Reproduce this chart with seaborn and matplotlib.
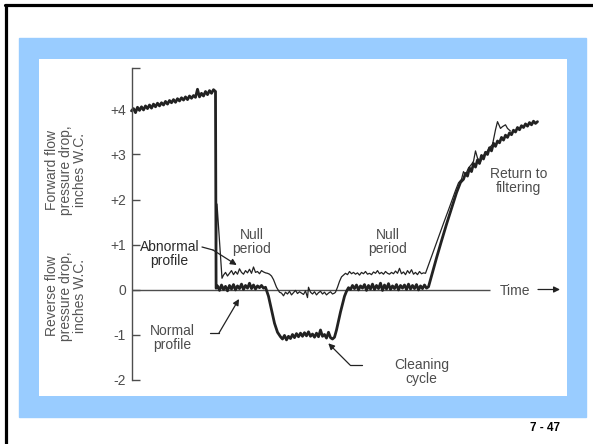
import matplotlib
matplotlib.use("Agg")
import matplotlib.pyplot as plt
from matplotlib.patches import Rectangle
from matplotlib.lines import Line2D
import pandas as pd
import seaborn as sns

# time axis in arbitrary units, pressure drop in inches W.C.
normal_t = [0, 2, 4, 6, 8, 10, 12, 14, 16, 18, 20, 22, 24, 26, 28, 30, 32, 34, 36, 38, 40,
            42, 44, 46, 48, 50, 52, 54, 56, 58, 60, 62, 64, 66, 68, 70, 72, 74, 76, 78, 80, 82, 84,
            84.6, 86, 88, 90, 92, 94, 96, 98, 100, 102, 104, 106, 108, 110, 112, 114, 116, 118,
            120, 122, 124, 126, 128, 130, 132, 134,
            137, 140, 143, 146, 149,
            151, 153, 155, 157, 159, 161, 163, 165, 167, 169, 171, 173, 175, 177, 179, 181, 183,
            185, 187, 189, 191, 193, 195, 197, 199, 201, 203,
            205, 207, 209, 211, 213, 215, 217,
            219, 221, 223, 225, 227, 229, 231, 233, 235, 237, 239, 241, 243, 245, 247, 249, 251,
            253, 255, 257, 259, 261, 263, 265, 267, 269, 271, 273, 275, 277, 279, 281, 283, 285,
            287, 289, 291, 293, 295, 297,
            300, 305, 310, 315, 320, 325, 329,
            332, 334, 336, 338, 340, 342, 344, 346, 348, 350, 352, 354, 356, 358, 360, 362, 364,
            366, 368, 370, 372, 374, 376, 378, 380, 382, 384, 386, 388, 390, 392, 394, 396, 398,
            400, 402, 404, 406]
normal_v = [3.97, 4.02, 3.93, 4.05, 3.98, 4.06, 3.99, 4.08, 4.02, 4.10, 4.03, 4.12, 4.06, 4.14,
            4.08, 4.15, 4.10, 4.18, 4.12, 4.20, 4.15, 4.22, 4.16, 4.24, 4.19, 4.26, 4.21, 4.28,
            4.22, 4.30, 4.25, 4.31, 4.27, 4.45, 4.28, 4.36, 4.30, 4.40, 4.33, 4.42, 4.36, 4.44, 4.40,
            0.03, 0.08, -0.02, 0.10, 0.00, 0.07, -0.03, 0.09, 0.01, 0.11, -0.01, 0.08, 0.02, 0.12,
            0.00, 0.09, 0.03, 0.14, 0.02, 0.10, 0.01, 0.08, 0.04, 0.09, 0.03, 0.05,
            -0.15, -0.45, -0.75, -0.95, -1.05,
            -1.10, -1.02, -1.12, -1.04, -1.09, -1.00, -1.07, -0.98, -1.05, -0.97, -1.04, -0.96,
            -1.03, -0.94, -1.04, -0.99, -1.06, -0.97, -1.05, -0.90, -1.04, -1.00, -1.08, -0.95,
            -1.07, -1.10, -1.06,
            -0.90, -0.70, -0.50, -0.32, -0.15, -0.04, 0.04,
            0.00, 0.09, 0.02, 0.10, -0.01, 0.08, 0.03, 0.11, -0.02, 0.09, 0.01, 0.12, 0.00, 0.09,
            0.02, 0.14, -0.02, 0.10, 0.01, 0.13, 0.00, 0.08, 0.02, 0.11, -0.01, 0.09, 0.03, 0.10,
            0.00, 0.12, 0.01, 0.09, 0.02, 0.11, -0.01, 0.08, 0.02, 0.10, 0.03, 0.06,
            0.30, 0.70, 1.08, 1.45, 1.80, 2.15, 2.38,
            2.45, 2.58, 2.52, 2.70, 2.62, 2.80, 2.72, 2.88, 2.80, 2.98, 2.90, 3.05, 3.00, 3.15,
            3.08, 3.25, 3.18, 3.30, 3.26, 3.38, 3.32, 3.43, 3.38, 3.48, 3.44, 3.54, 3.50, 3.60,
            3.55, 3.64, 3.60, 3.68, 3.63, 3.71, 3.66, 3.74, 3.69, 3.73]

abnormal_t = [84, 84.4, 85.5, 90.5,
              92, 94, 96, 98, 100, 102, 104, 106, 108, 110, 112, 114, 116, 118, 120, 122, 124,
              126, 128, 130, 132, 134, 136, 138, 140,
              142, 145, 148, 150,
              152, 154, 156, 158, 160, 162, 164, 166, 168, 170, 172, 174, 176, 177, 179, 181,
              183, 185, 187, 189, 191, 193, 195, 197, 199, 201, 203, 204,
              206, 208, 210, 212,
              214, 216, 218, 220, 222, 224, 226, 228, 230, 232, 234, 236, 238, 240, 242, 244,
              246, 248, 250, 252, 254, 256, 258, 260, 262, 264, 266, 268, 270, 272, 274, 276,
              278, 280, 282, 284, 286, 288, 290, 292, 294,
              300, 306, 312, 318, 324, 327,
              330, 332, 334, 337, 340, 342, 344, 346, 349, 352, 355, 358, 361, 364, 366, 369,
              371, 374, 376, 379]
abnormal_v = [4.40, 0.02, 1.90, 0.25,
              0.32, 0.38, 0.30, 0.36, 0.42, 0.33, 0.40, 0.34, 0.46, 0.38, 0.34, 0.42, 0.37, 0.45,
              0.36, 0.50, 0.38, 0.40, 0.35, 0.42, 0.39, 0.37, 0.36, 0.34, 0.30,
              0.22, 0.05, -0.06, -0.08,
              -0.14, -0.06, -0.10, -0.04, -0.12, -0.07, -0.02, -0.09, -0.05, -0.08, -0.11, -0.03,
              -0.18, 0.05, -0.06, -0.10, -0.05, -0.12, -0.07, -0.04, -0.10, -0.06, -0.12, -0.08,
              -0.05, -0.10, -0.08, -0.06,
              0.05, 0.18, 0.28, 0.32,
              0.36, 0.33, 0.40, 0.35, 0.38, 0.34, 0.37, 0.32, 0.38, 0.35, 0.40, 0.34, 0.36, 0.33,
              0.39, 0.36, 0.42, 0.35, 0.38, 0.34, 0.40, 0.36, 0.34, 0.38, 0.35, 0.41, 0.36, 0.47,
              0.35, 0.39, 0.33, 0.42, 0.36, 0.44, 0.34, 0.38, 0.33, 0.40, 0.35, 0.37, 0.36,
              0.73, 1.10, 1.47, 1.83, 2.20, 2.37,
              2.45, 2.62, 2.55, 2.70, 2.78, 2.85, 3.08, 2.92, 2.84, 2.98, 3.05, 3.15, 3.22, 3.55,
              3.73, 3.58, 3.62, 3.66, 3.58, 3.52]

tick_values = [-2, -1, 0, 1, 2, 3, 4]
tick_labels = ["-2", "-1", "0", "+1", "+2", "+3", "+4"]

normal = pd.DataFrame({"t": normal_t, "dp": normal_v})
abnormal = pd.DataFrame({"t": abnormal_t, "dp": abnormal_v})

W, H = 593, 444


def fx(px):
    return px / W


def fy(py):
    return 1 - py / H


def d(px, py):
    # picture pixel -> data coords of the chart axes
    return (px - 131.5, (289.5 - py) / 45.0)


sns.set_style("white")
plt.rcParams["font.family"] = ["Liberation Sans", "DejaVu Sans"]

ink = "#222222"
grey = "#4d4d4d"

fig = plt.figure(figsize=(5.93, 4.44), dpi=100)
fig.patch.set_facecolor("white")

# slide frame and blue panel
fig.add_artist(Rectangle((fx(19), fy(417)), fx(585.7) - fx(19), fy(38) - fy(417),
                         transform=fig.transFigure, color="#99ccff", zorder=-1))
fig.add_artist(Line2D([fx(5), 1], [fy(5.5), fy(5.5)], color="black", lw=2.3))
fig.add_artist(Line2D([fx(6), fx(6)], [fy(5), 0], color="black", lw=2.3))

ax = fig.add_axes([fx(39), fy(396), fx(567) - fx(39), fy(59) - fy(396)])
ax.set_facecolor("white")
ax.set_xlim(-92.5, 435.5)
ax.set_ylim((289.5 - 396) / 45.0, (289.5 - 59) / 45.0)

sns.lineplot(data=abnormal, x="t", y="dp", color=ink, lw=0.9, sort=False,
             estimator=None, ax=ax)
sns.lineplot(data=normal, x="t", y="dp", color=ink, lw=2.0, sort=False,
             estimator=None, ax=ax)

ax.hlines(0, 0, d(490, 0)[0], color=grey, lw=1.0, zorder=1)

for side in ["top", "right", "bottom"]:
    ax.spines[side].set_visible(False)
ax.spines["left"].set_position(("data", 0))
ax.spines["left"].set_bounds(-2, d(0, 68)[1])
ax.spines["left"].set_color(grey)
ax.spines["left"].set_linewidth(1.0)
ax.set_xticks([])
ax.set_yticks(tick_values, tick_labels)
ax.set_yticks([d(0, 68)[1]], minor=True)
ax.tick_params(axis="y", which="both", left=True, direction="in", length=6, width=1,
               color=grey, labelcolor=grey, labelsize=10, pad=4)
ax.set_xlabel("")
ax.set_ylabel("")

txt = dict(ha="center", va="center", fontsize=10, color=grey, linespacing=1.0)
ax.text(*d(169.5, 254), "Abnormal\nprofile", **{**txt, "color": "#2a2a2a"})
ax.text(*d(251.5, 242), "Null\nperiod", **txt)
ax.text(*d(388, 242), "Null\nperiod", **txt)
ax.text(*d(172, 338), "Normal\nprofile", **txt)
ax.text(*d(421.5, 372), "Cleaning\ncycle", **txt)
ax.text(*d(518.5, 181), "Return to\nfiltering", **txt)
ax.text(*d(515, 291), "Time", **txt)

arrow = dict(arrowstyle="-|>", color=ink, lw=0.9, mutation_scale=9, shrinkA=0, shrinkB=0)
leaders = [
    [(202, 247), (213, 250), (236.7, 265)],
    [(210, 333), (219, 333), (239, 299)],
    [(361.7, 365), (350, 365), (328.3, 343.3)],
]
for pts in leaders:
    p = [d(*q) for q in pts]
    ax.plot([p[0][0], p[1][0]], [p[0][1], p[1][1]], color=ink, lw=0.9)
    ax.annotate("", xy=p[2], xytext=p[1], arrowprops=arrow)
ax.annotate("", xy=d(560, 289.5), xytext=d(538, 289.5), arrowprops=arrow)

# y-axis captions
cap = dict(ha="center", va="center", rotation=90, fontsize=10, color="#555555",
           linespacing=1.0, multialignment="center")
fig.text(fx(66), fy(170), "Forward flow\npressure drop,\ninches W.C.", **cap)
fig.text(fx(66), fy(296), "Reverse flow\npressure drop,\ninches W.C.", **cap)

fig.text(fx(545), fy(428), "7 - 47", ha="center", va="center", fontsize=8.5,
         fontweight="bold", color="black")

fig.savefig("out.png", dpi=100)
